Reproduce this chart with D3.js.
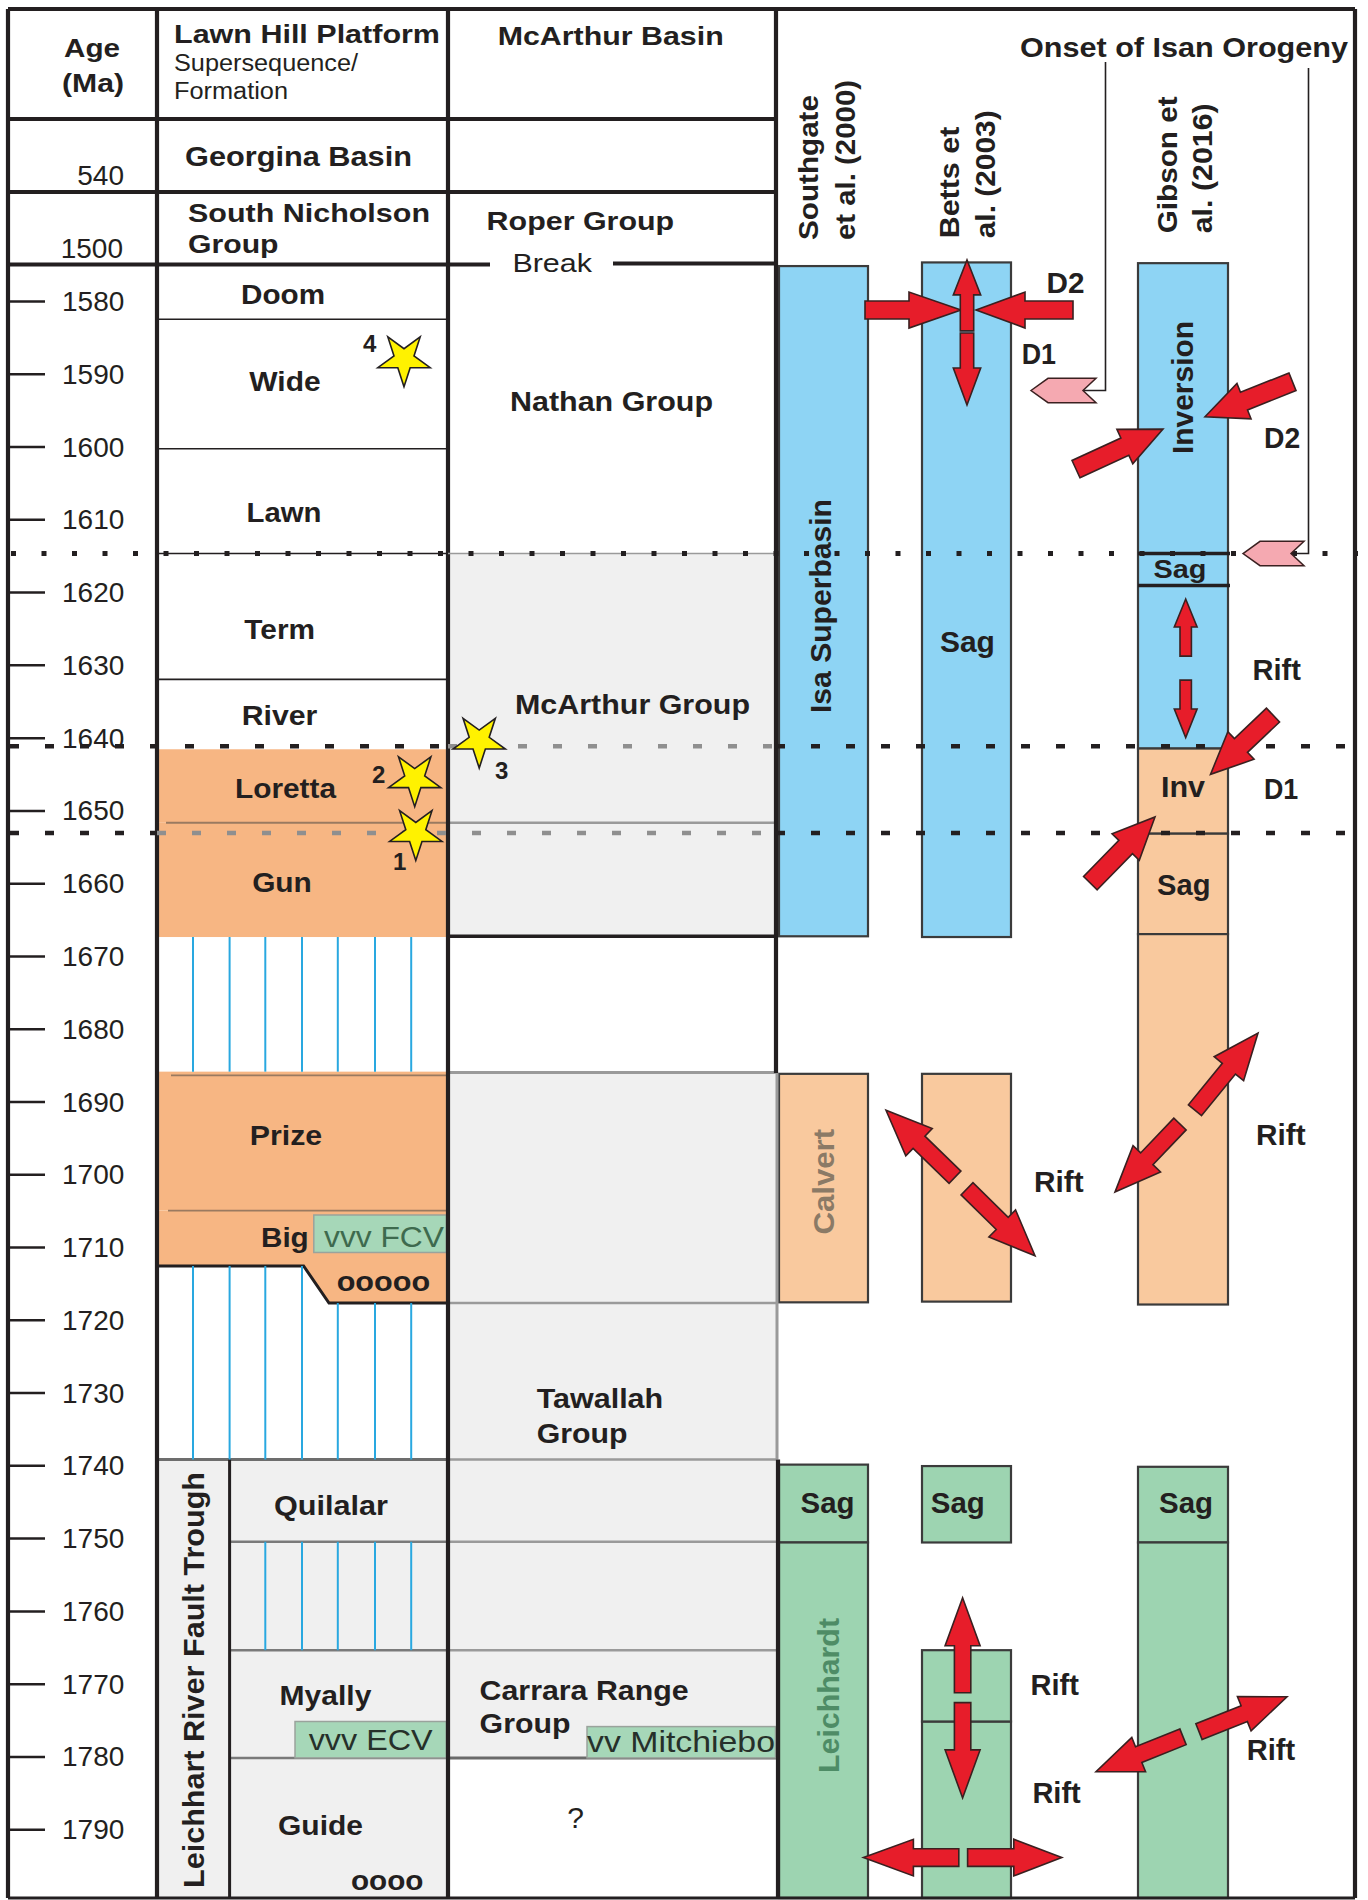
<!DOCTYPE html>
<html>
<head>
<meta charset="utf-8">
<script src="https://cdn.jsdelivr.net/npm/d3@7"></script>
<style>
  body { margin: 0; background: #fff; }
  svg { display: block; }
  text { font-family: "Liberation Sans", Arial, Helvetica, sans-serif; }
</style>
</head>
<body>
<div id="chart"></div>
<script>
// ---------------- data ----------------
// Age axis ticks (Ma)
const ageTicks = [1580, 1590, 1600, 1610, 1620, 1630, 1640, 1650, 1660, 1670, 1680,
                  1690, 1700, 1710, 1720, 1730, 1740, 1750, 1760, 1770, 1780, 1790];
// Ages written against the compressed upper rows
const compressedAges = ["540", "1500"];

// Lawn Hill Platform supersequences / formations (ages in Ma)
const lawnHillUnits = [
  { name: "Doom",    top: 1575.0, base: 1582.5, kind: "plain" },
  { name: "Wide",    top: 1582.5, base: 1600.3, kind: "plain" },
  { name: "Lawn",    top: 1600.3, base: 1614.7, kind: "plain" },
  { name: "Term",    top: 1614.7, base: 1632.0, kind: "plain" },
  { name: "River",   top: 1632.0, base: 1641.6, kind: "plain" },
  { name: "Loretta", top: 1641.6, base: 1651.7, kind: "orange" },
  { name: "Gun",     top: 1651.7, base: 1667.4, kind: "orange" },
  { name: "Prize",   top: 1685.9, base: 1705.0, kind: "orange" },
  { name: "Big",     top: 1705.0, base: 1712.6, kind: "orange", stepBase: 1717.7 }
];
// Leichhardt River Fault Trough units
const troughUnits = [
  { name: "Quilalar", top: 1739.2, base: 1750.5 },
  { name: "",         top: 1750.5, base: 1765.4 },
  { name: "Myally",   top: 1765.4, base: 1780.2 },
  { name: "Guide",    top: 1780.2, base: 1800.0 }
];
// McArthur Basin groups
const mcarthurUnits = [
  { name: "Nathan Group",        top: 1575.0, base: 1614.7, kind: "plain" },
  { name: "McArthur Group",      top: 1614.7, base: 1667.3, kind: "grey" },
  { name: "",                    top: 1667.3, base: 1686.0, kind: "plain" },
  { name: "Tawallah Group",      top: 1686.0, base: 1739.2, kind: "grey" },
  { name: "Carrara Range Group", top: 1739.2, base: 1780.2, kind: "grey" },
  { name: "?",                   top: 1780.2, base: 1800.0, kind: "plain" }
];
// correlation lines carried across the McArthur column
const correlationAges = [1651.7, 1717.7, 1739.2, 1750.5, 1765.4];
// hiatus intervals (hatched) in the Lawn Hill column
const hiatusIntervals = [
  { top: 1667.4, base: 1685.9, lines: [0, 1, 2, 3, 4, 5, 6] },
  { top: 1712.6, base: 1739.2, lines: [0, 1, 2, 3] },
  { top: 1717.7, base: 1739.2, lines: [4, 5, 6] },
  { top: 1750.5, base: 1765.4, lines: [2, 3, 4, 5, 6] }
];
// volcanic units
const volcanics = [
  { name: "vvv FCV",      top: 1705.6, base: 1710.75, column: "lhp" },
  { name: "vvv ECV",      top: 1775.2, base: 1780.2,  column: "lhp" },
  { name: "vv Mitchiebo", top: 1775.9, base: 1780.2,  column: "mca" }
];
// dated samples (stars)
const samples = [
  { id: "4", age: 1588.0 },
  { id: "3", age: 1640.4 },
  { id: "2", age: 1645.7 },
  { id: "1", age: 1653.1 }
];
// basin-scale events
const eventLines = [
  { age: 1614.7, style: "dotted" },
  { age: 1641.2, style: "dashed", grey: [448, 776] },
  { age: 1653.1, style: "dashed", grey: [157, 776] }
];
// tectonic interpretations of three studies
const tectonicBars = [
  { study: "southgate", top: 1575.2, base: 1667.3, phase: "isa" },
  { study: "southgate", top: 1686.2, base: 1717.6, phase: "calvert" },
  { study: "southgate", top: 1739.9, base: 1750.6, phase: "leichhardt" },
  { study: "southgate", top: 1750.6, base: 1800.0, phase: "leichhardt" },
  { study: "betts",     top: 1574.7, base: 1667.4, phase: "isa" },
  { study: "betts",     top: 1686.2, base: 1717.5, phase: "calvert" },
  { study: "betts",     top: 1740.1, base: 1750.6, phase: "leichhardt" },
  { study: "betts",     top: 1775.2, base: 1800.0, phase: "leichhardt" },
  { study: "betts",     top: 1765.4, base: 1775.2, phase: "leichhardt" },
  { study: "gibson",    top: 1574.8, base: 1641.5, phase: "isa" },
  { study: "gibson",    top: 1641.5, base: 1653.2, phase: "calvert" },
  { study: "gibson",    top: 1653.2, base: 1667.0, phase: "calvert" },
  { study: "gibson",    top: 1667.0, base: 1717.9, phase: "calvert" },
  { study: "gibson",    top: 1740.2, base: 1750.6, phase: "leichhardt" },
  { study: "gibson",    top: 1750.6, base: 1800.0, phase: "leichhardt" }
];
// sag intervals bounded by heavy lines in the Gibson column
const gibsonSag = [1614.7, 1619.1];

// ---------------- layout ----------------
const W = 1368, H = 1900;
const INK = "#231f20";
const COLORS = {
  orange: "#f7b683", peach: "#f9c99e", blue: "#8ed4f4", green: "#9dd4b1",
  grey: "#f0f0f0", red: "#e71d2a", pink: "#f5a9b1", hatch: "#29a8e0",
  volc: "#a6d7b8", greyLine: "#8f8f8f"
};
const phaseFill = { isa: COLORS.blue, calvert: COLORS.peach, leichhardt: COLORS.green };
const FR = { left: 8, right: 1355, top: 9, bottom: 1898 };
const X = { ageR: 157, lhpR: 448, troughR: 229.6, mcaR: 776 };
const BAR = { southgate: [779, 868], betts: [922, 1011], gibson: [1138, 1228] };
const hatchX = [193, 229.6, 265.3, 302, 337.8, 375, 411.2];

const y = d3.scaleLinear().domain([1580, 1790]).range([301, 1829.2]);
const yc = a => Math.min(y(a), FR.bottom);

const svg = d3.select("#chart").append("svg").attr("width", W).attr("height", H);
svg.append("rect").attr("width", W).attr("height", H).attr("fill", "#fff");

const gFill = svg.append("g");
const gLines = svg.append("g");
const gBars = svg.append("g");
const gFrame = svg.append("g");
const gEvents = svg.append("g");
const gArrows = svg.append("g");
const gText = svg.append("g");

function line(g, x1, y1, x2, y2, stroke, sw, dash) {
  const l = g.append("line").attr("x1", x1).attr("y1", y1).attr("x2", x2).attr("y2", y2)
    .attr("stroke", stroke).attr("stroke-width", sw);
  if (dash) l.attr("stroke-dasharray", dash);
  return l;
}
function txt(s, x, yy, o = {}) {
  const t = gText.append("text").attr("x", x).attr("y", yy).text(s)
    .attr("font-size", o.size || 28)
    .attr("font-weight", o.bold === false ? 400 : 700)
    .attr("text-anchor", o.anchor || "start")
    .attr("fill", o.fill || INK);
  if (o.w) t.attr("textLength", o.w).attr("lengthAdjust", "spacingAndGlyphs");
  if (o.rot) t.attr("transform", `rotate(-90 ${x} ${yy})`);
  return t;
}

// ---- Lawn Hill column fills ----
lawnHillUnits.forEach(u => {
  const fill = u.kind === "orange" ? COLORS.orange : "#fff";
  if (u.stepBase) {
    // Big: base steps down where the conglomerate wedge thickens
    const pts = [[X.ageR, y(u.top)], [X.lhpR, y(u.top)], [X.lhpR, y(u.stepBase)],
                 [329, y(u.stepBase)], [303.6, y(u.base)], [X.ageR, y(u.base)]];
    gFill.append("polygon").attr("points", pts.map(p => p.join(",")).join(" ")).attr("fill", fill);
    gLines.append("polyline")
      .attr("points", [[X.ageR, y(u.base)], [303.6, y(u.base)], [329, y(u.stepBase)], [X.lhpR, y(u.stepBase)]].map(p => p.join(",")).join(" "))
      .attr("fill", "none").attr("stroke", INK).attr("stroke-width", 3);
  } else {
    gFill.append("rect").attr("x", X.ageR).attr("y", y(u.top)).attr("width", X.lhpR - X.ageR)
      .attr("height", y(u.base) - y(u.top)).attr("fill", fill);
  }
});
// boundaries within the Lawn Hill column
[1582.5, 1600.3, 1632.0].forEach(a => line(gLines, X.ageR, y(a), X.lhpR, y(a), INK, 1.6));
[[1651.7, 166], [1686.4, 171], [1705.0, 168]].forEach(([a, x0]) =>
  line(gLines, x0, y(a), X.lhpR, y(a), "#9a7a60", 1.8));

// Leichhardt River Fault Trough (grey) and its units
gFill.append("rect").attr("x", X.ageR).attr("y", y(1739.2)).attr("width", X.lhpR - X.ageR)
  .attr("height", FR.bottom - y(1739.2)).attr("fill", COLORS.grey);
line(gLines, X.ageR, y(1739.2), X.lhpR, y(1739.2), "#6d6d6d", 3);
troughUnits.slice(1).forEach(u => line(gLines, X.troughR, y(u.top), X.lhpR, y(u.top), "#7a7a7a", 2.5));
line(gLines, X.troughR, y(1739.2), X.troughR, FR.bottom, INK, 3);

// ---- McArthur column fills ----
mcarthurUnits.forEach(u => {
  if (u.kind === "grey") {
    gFill.append("rect").attr("x", X.lhpR + 2).attr("y", y(u.top)).attr("width", X.mcaR - X.lhpR - 2)
      .attr("height", y(u.base) - y(u.top)).attr("fill", COLORS.grey);
  }
});
correlationAges.forEach(a => line(gLines, X.lhpR, y(a), X.mcaR, y(a), "#9a9a9a", 2.5));
line(gLines, X.lhpR, y(1686.0), X.mcaR, y(1686.0), "#9a9a9a", 3);
line(gLines, X.lhpR, y(1780.2), X.mcaR, y(1780.2), "#6a6a6a", 3);
line(gLines, X.mcaR - 1, y(1614.7), X.mcaR - 1, y(1667.3), "#9a9a9a", 2);

// hiatus hatching
hiatusIntervals.forEach(h => h.lines.forEach(i =>
  line(gLines, hatchX[i], y(h.top), hatchX[i], y(h.base), COLORS.hatch, 2)));

// volcanic boxes
volcanics.forEach(v => {
  const x0 = v.name === "vvv FCV" ? 313.8 : v.name === "vvv ECV" ? 295 : 587;
  const x1 = v.column === "lhp" ? 446.4 : 775.5;
  gLines.append("rect").attr("x", x0).attr("y", y(v.top)).attr("width", x1 - x0)
    .attr("height", y(v.base) - y(v.top)).attr("fill", COLORS.volc)
    .attr("stroke", "#9aa39c").attr("stroke-width", 1.5);
});

// ---- tectonic bars ----
tectonicBars.forEach(b => {
  const [x0, x1] = BAR[b.study];
  gBars.append("rect").attr("x", x0).attr("y", y(b.top)).attr("width", x1 - x0)
    .attr("height", yc(b.base) - y(b.top))
    .attr("fill", phaseFill[b.phase]).attr("stroke", "#3b3b3b").attr("stroke-width", 2.2);
});
gibsonSag.forEach(a => line(gBars, BAR.gibson[0], y(a), BAR.gibson[1] + 2, y(a), INK, 3.5));

// ---- frame ----
const F = 4.2;
line(gFrame, FR.left, FR.top, FR.right, FR.top, INK, F);
line(gFrame, FR.left, FR.top, FR.left, FR.bottom, INK, F);
line(gFrame, FR.right, FR.top, FR.right, FR.bottom, INK, F);
line(gFrame, FR.left, FR.bottom, FR.right, FR.bottom, INK, 3);
line(gFrame, X.ageR, FR.top, X.ageR, FR.bottom, INK, F);
line(gFrame, X.lhpR, FR.top, X.lhpR, FR.bottom, INK, F);
line(gFrame, X.mcaR, FR.top, X.mcaR, 1073, INK, F);
line(gFrame, X.mcaR + 1, 1073, X.mcaR + 1, y(1739.2), "#9a9a9a", 3);
line(gFrame, X.mcaR + 2, y(1739.2), X.mcaR + 2, FR.bottom, INK, F);
line(gFrame, FR.left, 119, X.mcaR, 119, INK, F);
line(gFrame, FR.left, 192, X.mcaR, 192, INK, F);
line(gFrame, FR.left, 264.5, 490, 264.5, INK, F);
line(gFrame, 613, 263.5, X.mcaR, 263.5, INK, F);
line(gFrame, X.lhpR, y(1667.3), X.mcaR, y(1667.3), INK, 3.5);

// age axis
const axis = d3.axisRight(y).tickValues(ageTicks).tickSize(35).tickPadding(17).tickFormat(d3.format("d"));
const gAxis = gFrame.append("g").attr("transform", `translate(10,0)`).call(axis);
gAxis.select(".domain").remove();
gAxis.selectAll("line").attr("stroke", INK).attr("stroke-width", 2.5);
gAxis.selectAll("text").attr("font-size", 28).attr("fill", INK)
  .attr("font-family", "'Liberation Sans', Arial, sans-serif").attr("dy", "0.34em");

// ---- event lines ----
eventLines.forEach(e => {
  const yy = y(e.age);
  if (e.style === "dotted") {
    line(gEvents, X.ageR, yy, X.lhpR, yy, INK, 1.6);
    line(gEvents, X.lhpR, yy, X.mcaR, yy, "#9a9a9a", 1.6);
    line(gEvents, 11, yy, W, yy, INK, 5, "5 25.5");
  } else {
    const segs = [[10, e.grey[0], INK], [e.grey[0], e.grey[1], COLORS.greyLine], [e.grey[1], W, INK]];
    segs.forEach(([a, b, c]) => line(gEvents, a, yy, b, yy, c, 4.5, "9 26"));
  }
});

// ---- arrows ----
function arrowPts(x1, y1, x2, y2, sw, hw, hl) {
  const dx = x2 - x1, dy = y2 - y1, L = Math.hypot(dx, dy);
  const ux = dx / L, uy = dy / L, px = -uy, py = ux;
  const bx = x2 - ux * hl, by = y2 - uy * hl;
  return [[x1 + px * sw, y1 + py * sw], [bx + px * sw, by + py * sw], [bx + px * hw, by + py * hw],
          [x2, y2], [bx - px * hw, by - py * hw], [bx - px * sw, by - py * sw], [x1 - px * sw, y1 - py * sw]];
}
function arrow(from, to, sw, hw, hl) {
  const p = arrowPts(from[0], y(from[1]), to[0], y(to[1]), sw, hw, hl);
  gArrows.append("polygon").attr("points", p.map(q => q.join(",")).join(" "))
    .attr("fill", COLORS.red).attr("stroke", "#3a2020").attr("stroke-width", 1.6).attr("stroke-linejoin", "miter");
}
// Betts et al. (2003): D2 shortening and D1 extension
arrow([865, 1581.24], [961, 1581.24], 9, 18, 52);
arrow([1073, 1581.24], [976, 1581.24], 9, 18, 49);
arrow([967, 1584.1], [967, 1574.35], 6.7, 13.7, 35);
arrow([967, 1584.4], [967, 1594.3], 6.7, 13.7, 37);
// Gibson et al. (2016): D2 inversion
arrow([1076, 1603.1], [1163, 1597.6], 9.5, 19, 42);
arrow([1292.5, 1591.1], [1205, 1595.9], 9.5, 19, 42);
// Gibson: rift
arrow([1185.7, 1628.8], [1185.7, 1620.95], 5.7, 11.4, 28);
arrow([1185.7, 1632.1], [1185.7, 1640.0], 5.7, 11.4, 28.6);
// Gibson: D1
arrow([1273, 1636.9], [1210.5, 1645.05], 9.5, 19, 42);
arrow([1090.4, 1660.0], [1155, 1650.9], 9.5, 19, 42);
// Calvert rifting
arrow([955, 1700.4], [886, 1691.2], 8.5, 19, 46);
arrow([967, 1702.0], [1035, 1711.2], 8.5, 19, 46);
arrow([1195, 1691.2], [1258, 1680.6], 8.5, 19, 46);
arrow([1180, 1693.1], [1115, 1702.45], 8.5, 19, 46);
// Leichhardt rifting
arrow([962.6, 1771.25], [962.6, 1758.2], 8.2, 17.5, 48);
arrow([962.6, 1772.6], [962.6, 1785.7], 8.2, 17.5, 48);
arrow([958.8, 1793.9], [863.4, 1793.9], 8.8, 18.3, 50);
arrow([967.6, 1793.9], [1061.8, 1793.9], 8.8, 18.3, 48);
arrow([1183, 1777.3], [1096, 1782.1], 8.5, 18.5, 46);
arrow([1199, 1776.6], [1287, 1771.8], 8.5, 18.5, 46);

// onset of Isan Orogeny pointers
function pointer(tipX, age, tailX, leaderX, leaderTop) {
  const yy = y(age), h = 12.2;
  const pts = [[tipX, yy], [tipX + 17, yy - h], [tailX, yy - h], [tailX - 13, yy], [tailX, yy + h], [tipX + 17, yy + h]];
  gArrows.append("polyline")
    .attr("points", [[leaderX, leaderTop], [leaderX, yy], [tailX - 13, yy]].map(p => p.join(",")).join(" "))
    .attr("fill", "none").attr("stroke", INK).attr("stroke-width", 1.6);
  gArrows.append("polygon").attr("points", pts.map(p => p.join(",")).join(" "))
    .attr("fill", COLORS.pink).attr("stroke", "#3a2020").attr("stroke-width", 1.5);
}
pointer(1031, 1592.3, 1096, 1105.5, 62);
pointer(1243, 1614.7, 1304, 1308.5, 68);

// ---- samples (stars) ----
const sampleX = { "4": 404, "3": 479.2, "2": 414.7, "1": 415.8 };
const star = d3.symbol(d3.symbolStar, 850);
samples.forEach(s => {
  gArrows.append("path").attr("d", star())
    .attr("transform", `translate(${sampleX[s.id]},${y(s.age)}) rotate(180)`)
    .attr("fill", "#fff200").attr("stroke", INK).attr("stroke-width", 1.6);
});
const sampleLabel = { "4": [363, -7], "2": [372, 3.5], "1": [393, 37], "3": [495, 38] };
samples.forEach(s => txt(s.id, sampleLabel[s.id][0], y(s.age) + sampleLabel[s.id][1], { size: 24 }));

// ---- text ----
// header
txt("Age", 92, 57, { anchor: "middle", size: 25, w: 56 });
txt("(Ma)", 93, 92, { anchor: "middle", size: 25, w: 62 });
txt("Lawn Hill Platform", 174, 42.5, { size: 25, w: 266 });
txt("Supersequence/", 174, 71, { size: 23, bold: false, w: 184 });
txt("Formation", 174, 99, { size: 23, bold: false, w: 114 });
txt("McArthur Basin", 610.7, 45, { anchor: "middle", size: 25, w: 226 });
txt("Georgina Basin", 185, 165.7, { size: 28, w: 227 });
txt(compressedAges[0], 124, 185, { anchor: "end", size: 28, bold: false });
txt(compressedAges[1], 123, 258, { anchor: "end", size: 28, bold: false });
txt("South Nicholson", 188, 221.7, { size: 26, w: 242 });
txt("Group", 188, 253.3, { size: 26, w: 90.5 });
txt("Roper Group", 486.6, 230, { size: 26, w: 187.6 });
txt("Break", 512.4, 271.7, { size: 26, bold: false, w: 79.6 });
txt("Onset of Isan Orogeny", 1020, 57, { size: 28, w: 328 });
txt("Southgate", 818, 240, { size: 28, rot: true, w: 145 });
txt("et al. (2000)", 855, 240, { size: 28, rot: true, w: 160 });
txt("Betts et", 959.5, 238.3, { size: 28, rot: true, w: 111.6 });
txt("al. (2003)", 995, 238.3, { size: 28, rot: true, w: 128 });
txt("Gibson et", 1177.3, 233.3, { size: 28, rot: true, w: 137 });
txt("al. (2016)", 1212.4, 233.3, { size: 28, rot: true, w: 130 });

// Lawn Hill formations
const lhpLabel = {
  Doom: [283, 304, 84], Wide: [285, 391.3, 71.4], Lawn: [284, 522, 75], Term: [279.7, 639, 70.7],
  River: [279.5, 725, 75.7], Loretta: [285.5, 797.7, 101], Gun: [282, 891.8, 59.7], Prize: [286, 1145.4, 72.4]
};
lawnHillUnits.forEach(u => {
  if (lhpLabel[u.name]) {
    const [cx, by, w] = lhpLabel[u.name];
    txt(u.name, cx, by, { anchor: "middle", size: 28, w });
  }
});
txt("Big", 308.7, 1247, { anchor: "end", size: 28, w: 47.7 });
txt("ooooo", 336.7, 1290.7, { size: 28, w: 93.4 });
txt(volcanics[0].name, 324, 1247, { size: 29, bold: false, w: 120, fill: "#3e6a4e" });
txt("Leichhart River Fault Trough", 204, 1888, { size: 29, rot: true, w: 416 });
txt(troughUnits[0].name, 274, 1515, { size: 28, w: 114 });
txt(troughUnits[2].name, 279.6, 1705, { size: 28, w: 91.8 });
txt(troughUnits[3].name, 278, 1835, { size: 28, w: 85 });
txt("oooo", 351, 1890, { size: 28, w: 72.5 });
txt(volcanics[1].name, 308.7, 1750, { size: 30, bold: false, w: 124, fill: "#26302a" });

// McArthur groups
txt(mcarthurUnits[0].name, 611.5, 411, { anchor: "middle", size: 28, w: 203 });
txt(mcarthurUnits[1].name, 632.5, 713.5, { anchor: "middle", size: 27, w: 235 });
txt("Tawallah", 536.7, 1408, { size: 28, w: 126.5 });
txt("Group", 536.7, 1443, { size: 28, w: 90.8 });
txt("Carrara Range", 479.6, 1699.5, { size: 28, w: 209 });
txt("Group", 479.6, 1732.7, { size: 28, w: 90.8 });
txt(volcanics[2].name, 587, 1752, { size: 30, bold: false, w: 188, fill: "#26302a" });
txt(mcarthurUnits[5].name, 575.5, 1828, { anchor: "middle", size: 30, bold: false });

// tectonic bar labels
txt("Isa Superbasin", 831, 713, { size: 29, rot: true, w: 214 });
txt("Sag", 967.4, 652, { anchor: "middle", size: 29, w: 55 });
txt("Inversion", 1193, 454, { size: 30, rot: true, w: 133 });
txt("Sag", 1180, 578.4, { anchor: "middle", size: 26, w: 53 });
txt("Inv", 1183, 796.7, { anchor: "middle", size: 29, w: 44 });
txt("Sag", 1183.8, 895.4, { anchor: "middle", size: 29, w: 53.4 });
txt("Calvert", 834, 1234.6, { size: 30, rot: true, w: 105.7, fill: "#8b7a66" });
txt("Sag", 827.6, 1513.3, { anchor: "middle", size: 29, w: 54 });
txt("Sag", 957.8, 1513.3, { anchor: "middle", size: 29, w: 54 });
txt("Sag", 1186, 1513.3, { anchor: "middle", size: 29, w: 54 });
txt("Leichhardt", 838.6, 1773, { size: 30, rot: true, w: 155, fill: "#4e8c66" });

// tectonic process labels
txt("D2", 1046.5, 292.7, { size: 29, w: 38 });
txt("D1", 1021.7, 364, { size: 29, w: 34.3 });
txt("D2", 1264, 447.8, { size: 29, w: 36.2 });
txt("Rift", 1252.5, 680, { size: 29, w: 48.4 });
txt("D1", 1264, 798.8, { size: 29, w: 34.3 });
txt("Rift", 1034, 1191.8, { size: 29, w: 49.6 });
txt("Rift", 1256, 1145.4, { size: 29, w: 49.6 });
txt("Rift", 1030.5, 1695, { size: 29, w: 48.4 });
txt("Rift", 1032.4, 1803.3, { size: 29, w: 48.4 });
txt("Rift", 1246.7, 1760, { size: 29, w: 48.4 });
</script>
</body>
</html>
